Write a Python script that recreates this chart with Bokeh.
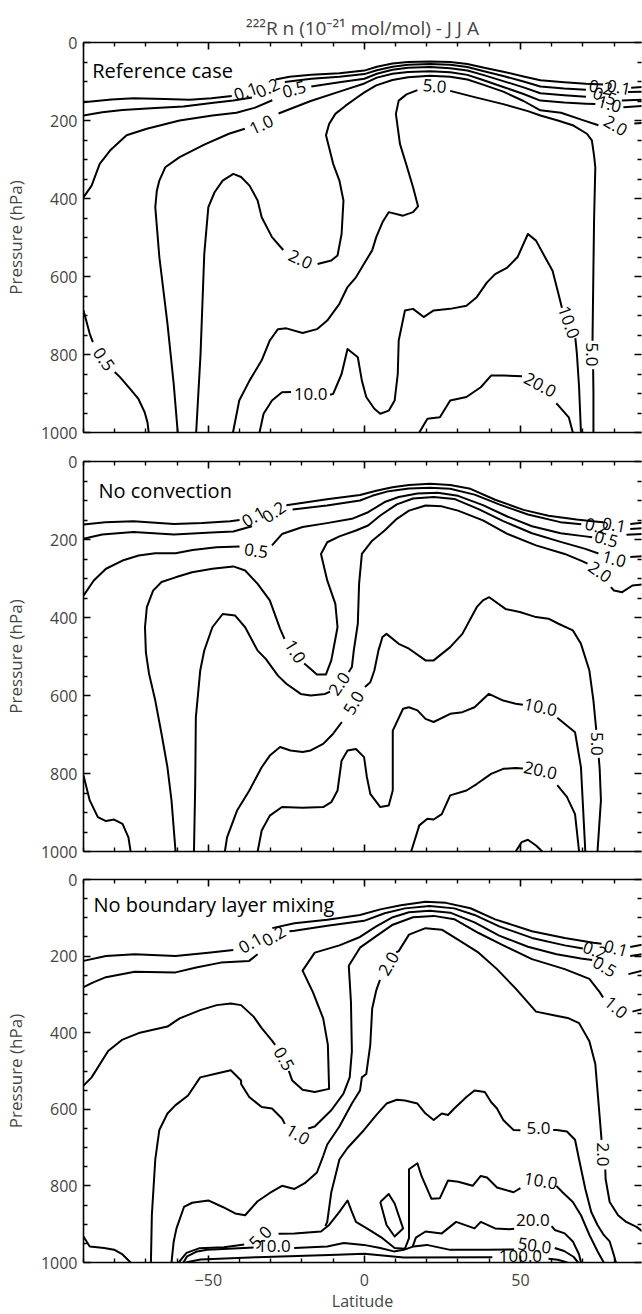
from bokeh.plotting import figure
from bokeh.models import Range1d, FixedTicker, LinearAxis, Label, Title
from bokeh.layouts import column
from bokeh.embed import file_html
from bokeh.resources import INLINE
from bokeh.core.properties import value

FONT = "Open Sans"
TITLE = "²²²R n (10⁻²¹ mol/mol) - J J A"
PANEL_NAMES = ["Reference case", "No convection", "No boundary layer mixing"]
LAT_MAJOR = [-50, 0, 50]
LAT_MINOR = [-90, -80, -70, -60, -40, -30, -20, -10, 10, 20, 30, 40, 60, 70, 80, 90]
P_MAJOR = [0, 200, 400, 600, 800, 1000]
P_MINOR = [50, 100, 150, 250, 300, 350, 450, 500, 550, 650, 700, 750, 850, 900, 950]

# ---------------- Reference case: contour paths (latitude, hPa) ----------------
ref_01 = [
    [(-90, 153), (-81, 146), (-74, 143), (-64, 145), (-56, 147), (-49, 143), (-42.5, 137)],
    [(-28.5, 95), (-24, 88), (-17, 83), (-8, 79), (0, 72), (4, 62), (9, 54), (14, 50), (21, 49), (27.5, 50),
     (33, 55), (38, 64), (44.5, 75), (51, 87), (56.4, 97), (64, 102), (71, 106), (76.5, 108)],
    [(85.5, 116), (89.1, 114)],
]
ref_02 = [
    [(-90, 187), (-84, 179), (-77.5, 173), (-67, 168), (-58, 164), (-49, 155), (-42, 149), (-36, 141)],
    [(-25.5, 101), (-17, 93), (-8, 88), (0, 81), (4, 71), (9, 62), (14, 57), (21, 55), (27.5, 57), (33, 63),
     (38, 73), (44.5, 86), (51, 100), (56.4, 113), (64, 118), (71, 121)],
    [(84.5, 127), (89.1, 126)],
]
ref_05 = [
    [(-90, 397), (-87.4, 367), (-84.8, 311), (-81.5, 277), (-76.2, 238), (-69.7, 221), (-59.2, 200),
     (-48.7, 187), (-41, 180), (-35, 167), (-29.5, 148)],
    [(-17, 113), (-8, 102), (0, 93), (4, 80), (9, 70), (14, 65), (21, 63), (27.5, 66), (33, 72), (38, 83),
     (44.5, 99), (51, 115), (56.4, 130), (64, 135), (71, 139)],
    [(82.5, 149), (89.1, 147)],
]
ref_10 = [
    [(-59.8, 1000), (-61.1, 875), (-63.1, 721), (-65.7, 550), (-67, 422), (-66.5, 380), (-65.7, 354),
     (-63.8, 320), (-59.2, 294), (-51.3, 262), (-43.4, 234), (-38.3, 221)],
    [(-27.5, 182), (-17.2, 150), (-8, 126), (0, 105), (4, 90), (9, 80), (14, 75.5), (21, 73.5), (27.5, 76),
     (33, 83), (38, 96), (44.5, 114), (51, 132), (56.4, 149), (64, 154), (71, 157), (74, 158)],
    [(83, 166), (89.1, 163)],
]
ref_20 = [
    [(-53.9, 1000), (-52.5, 800), (-51.3, 542), (-50, 422), (-48, 384), (-45.4, 354), (-42, 337), (-39.5, 345),
     (-36.8, 367), (-34.2, 405), (-32.9, 448), (-29.6, 499), (-26, 532)],
    [(-15, 568), (-10.6, 559), (-8.6, 546), (-7.3, 491), (-6.7, 405), (-8, 354), (-10, 311), (-12.3, 238),
     (-11.3, 209), (-9.3, 183), (-6, 162), (-2.7, 143), (0, 128), (3.8, 110), (9, 96), (14, 89), (21, 85),
     (27.5, 88), (33, 95), (38, 108), (44.5, 126), (51, 150), (56.4, 174), (63, 180), (70, 199), (75, 212)],
    [(86.5, 208), (89.1, 206)],
]
ref_50 = [
    [(-42.1, 1000), (-40.1, 918), (-36.8, 867), (-32.9, 815), (-30.3, 764), (-27.7, 735), (-25, 733),
     (-19.8, 745), (-15.2, 735), (-11.9, 713), (-8, 670), (-5.4, 627), (-2.7, 602), (1.2, 550), (2.5, 533),
     (3.8, 499), (5.8, 461), (7.8, 435), (12.4, 444), (15.6, 435), (17.2, 420), (15.6, 371), (13.7, 320),
     (11.4, 260), (10.1, 183), (11, 149), (13.5, 133), (17, 122)],
    [(27.5, 124), (35.3, 140), (44.5, 158), (52.4, 176), (56.4, 187), (62, 200), (67, 213), (71.3, 234),
     (72.9, 251), (73.6, 290), (74, 320), (73.6, 456), (73.4, 576), (73.1, 765)],
    [(73.3, 838), (73.4, 900), (73.4, 1000)],
]
ref_100 = [
    [(-33.6, 1000), (-32.3, 952), (-29.6, 918), (-26.4, 897), (-23.5, 896)],
    [(-11, 903), (-10, 901), (-7.3, 850), (-5.4, 786), (-2.1, 807), (-0.8, 867), (0.6, 909), (3.2, 939),
     (5.1, 952), (7.8, 944), (9.7, 918), (10.7, 850), (11, 764), (13, 687), (15.6, 683), (19, 704), (22.2, 687),
     (27.5, 683), (32.7, 675), (36, 653), (39.3, 615), (41.9, 594), (45.8, 577), (49.1, 550), (52.4, 491),
     (55, 508), (57.6, 546), (60.3, 585), (62.2, 645), (63.3, 680)],
    [(67.6, 758), (68.1, 798), (68.8, 884), (69.4, 1000)],
]
ref_200 = [
    [(17.6, 1000), (20.2, 965), (24.2, 961), (27.5, 918), (32.7, 909), (37.3, 884), (40.6, 854), (44.5, 854),
     (50.5, 856)],
    [(61.5, 925), (62.2, 931), (65.5, 961), (66.8, 1000)],
]
ref_05b = [
    [(-90, 687), (-88, 747), (-87, 768)],
    [(-80, 845), (-78.3, 858), (-75, 889), (-72.4, 914), (-70.4, 948), (-69.5, 974), (-69.1, 1000)],
]
ref_labels = [
    ("0.1", -38, 126, 20), ("0.2", -31, 117, 25), ("0.5", -22.5, 120, 15), ("1.0", -33, 211, 25),
    ("5.0", 22.5, 112, -5), ("2.0", -20.5, 556, -25), ("0.5", -83.5, 812, -55), ("10.0", -17.2, 901, 0),
    ("10.0", 65.5, 717, -70), ("5.0", 72.8, 800, -90), ("20.0", 56.3, 878, -28),
    ("0.2", 75.8, 115, -10), ("0.1", 81.5, 115, -10), ("0.5", 77, 138, -20), ("1.0", 78.5, 158, -15),
    ("2.0", 80.5, 213, -30),
]

# ---------------- No convection ----------------
nc_01 = [
    [(-90, 161.5), (-83, 155.5), (-74, 153), (-61, 160), (-52, 158), (-43, 153), (-40, 150)],
    [(-25, 112), (-12, 97), (-1.4, 86), (3.8, 75), (9, 66), (14.3, 60), (21, 57), (27.5, 60), (34, 70),
     (41.9, 98), (51, 124), (59, 139), (68, 149), (73, 153), (76.5, 156)],
    [(85.2, 160), (89.1, 157)],
]
nc_02 = [
    [(-90, 198), (-84, 187), (-74, 181), (-61, 187), (-49, 182), (-42, 179.5), (-36, 166)],
    [(-23, 123), (-12, 113), (-1.4, 100), (2.5, 88), (7.8, 76), (14.3, 69), (21, 67.5), (27.5, 70),
     (35.3, 85), (43.2, 110), (52.4, 136), (62.8, 155.5), (69.5, 161)],
    [(85.2, 173), (89.1, 171)],
]
nc_05 = [
    [(-90, 344), (-86.7, 305), (-82.8, 275), (-77.5, 254), (-72.3, 241), (-67, 235), (-60.5, 235), (-55, 227),
     (-47.4, 220), (-40, 218)],
    [(-29.6, 215), (-26.4, 186), (-19.8, 168), (-12, 158), (-4, 147), (1.2, 130), (6.5, 104), (11, 91),
     (17, 82), (23.5, 80), (30, 88), (38, 112), (45.8, 141), (53.7, 166), (62.9, 184), (70.8, 192), (73, 194)],
    [(84, 188), (89.1, 186)],
]
nc_10 = [
    [(-60.5, 1000), (-61.8, 869), (-63.1, 784), (-65, 698), (-67, 613), (-69, 544), (-70, 490), (-70.3, 425),
     (-69.7, 373.5), (-67.7, 331), (-65, 309), (-60.5, 297), (-55.2, 284), (-48.7, 275), (-42, 269),
     (-38.2, 279.5), (-34.2, 313.7), (-30.3, 356), (-27, 429), (-25.6, 455)],
    [(-19.3, 518), (-18.5, 523), (-15.2, 546), (-12.3, 546), (-10.6, 510), (-10, 484.6), (-8.6, 425),
     (-9.3, 365), (-11.9, 305), (-13.9, 237), (-11.9, 207), (-8, 192), (-2.7, 177), (1.2, 164), (5.1, 138.5),
     (10.4, 110), (15.6, 95), (22.2, 91), (28.8, 96), (36.6, 122), (44.5, 153), (53.7, 184), (62.9, 206),
     (70.8, 224), (75, 236)],
    [(85.2, 245), (89.1, 243)],
]
nc_20 = [
    [(-54.6, 1000), (-54.2, 827), (-54, 656), (-52.6, 536), (-51.3, 484.6), (-48.7, 425), (-45.4, 391),
     (-41.4, 395), (-38.2, 425), (-34.2, 485), (-31.6, 506), (-27.7, 549), (-25, 570), (-20.4, 596),
     (-17.2, 600), (-12.6, 596), (-11, 590)],
    [(-5, 540), (-4, 527), (-3.4, 485), (-2.1, 416), (-1.7, 314), (-0.8, 237), (2.5, 203), (6.5, 177),
     (10.4, 147), (14.3, 126), (19.6, 113), (24.8, 115), (30, 126), (38, 151), (45.8, 185.5), (55, 215),
     (64.2, 237), (69.4, 254), (71.5, 262)],
    [(79, 322), (80, 331), (82.6, 335), (85.9, 318), (89.1, 315)],
]
nc_50 = [
    [(-44.7, 1000), (-44, 964), (-40.8, 895), (-36.9, 844), (-32.9, 784), (-30.3, 754), (-27, 732),
     (-23.7, 741), (-19.8, 745), (-17.2, 741), (-13.2, 724), (-10, 698), (-7.2, 668)],
    [(0.2, 578), (1.9, 566), (3.2, 536), (4.5, 485), (5.8, 450), (7.1, 442), (11, 467.5), (14.3, 480),
     (19.6, 510), (22.2, 510), (27.5, 476), (31.4, 442), (36, 373.5), (38, 356), (40, 348), (45.2, 378),
     (49.8, 386), (55, 399), (59, 403), (62.2, 416), (66.8, 433), (69.4, 467.5), (72.1, 536), (73.4, 613),
     (74, 664), (74.3, 688)],
    [(75.1, 760), (75.4, 788), (75.8, 869), (74.7, 1000)],
]
nc_100 = [
    [(-34.2, 1000), (-32.9, 946), (-30.3, 908), (-26.4, 886), (-19.8, 888), (-13.2, 886), (-10.6, 873.5),
     (-8.6, 843.6), (-7.3, 767), (-5.4, 741), (-2.7, 737), (-0.1, 758), (0.8, 809), (1.9, 852), (5.1, 886),
     (7.8, 882), (9.1, 843.6), (9.1, 690), (12.4, 634), (14.3, 630), (17, 638), (19.6, 660), (22.2, 668),
     (27.5, 647), (31.4, 642.7), (35.3, 630), (39.9, 595.7), (44.5, 613), (48.5, 621), (50.8, 624)],
    [(61.8, 657), (62.9, 664), (67.5, 694), (69.4, 784), (70.8, 1000)],
]
nc_200 = [
    [(15, 1000), (17.6, 933), (20.2, 916), (22.2, 918), (24.8, 904), (27.5, 856), (32.7, 843.6), (36, 827),
     (40.6, 801), (44.5, 788), (48.5, 786), (50.8, 787)],
    [(61.8, 830), (64.9, 860), (67.5, 904), (68.8, 1000)],
]
nc_500 = [[(48.5, 1000), (50.4, 976), (52.4, 970), (55, 984.6), (57, 1000)]]
nc_05b = [[(-90, 805), (-88, 869), (-85.4, 912), (-82.8, 922), (-80.2, 918), (-77.5, 929), (-75.6, 964),
           (-74.9, 1000)]]
nc_labels = [
    ("0.1", -35.5, 142, 30), ("0.2", -29, 130, 35), ("0.5", -34.7, 229, -8), ("1.0", -22.2, 487, -58),
    ("2.0", -8, 570, 55), ("5.0", -3.4, 619, 60), ("10.0", 56.4, 630, -12), ("20.0", 56.4, 792, -12),
    ("5.0", 74.7, 724, -90), ("0.2", 74.5, 166, -15), ("0.1", 80, 163, -10), ("0.5", 77.5, 199, -15),
    ("1.0", 80, 250, -15), ("2.0", 75.5, 283, -35),
]

# ---------------- No boundary layer mixing ----------------
bl_01 = [
    [(-90, 212.5), (-82.8, 200), (-73.6, 195), (-60.5, 200), (-50, 191), (-42, 184)],
    [(-29.5, 127), (-22.4, 114), (-11.9, 105), (-1.4, 92.5), (5.1, 78), (11.7, 67), (19.6, 58), (26.1, 61),
     (34, 75), (41.9, 104), (53.7, 135), (64.2, 152.5), (73.4, 165), (76, 168)],
    [(85.2, 176), (89.1, 170)],
]
bl_02 = [
    [(-90, 281), (-86.7, 268), (-82.8, 255), (-73.6, 241), (-60.5, 242.5), (-53.9, 229.6), (-46, 217),
     (-36.9, 212.5), (-34.2, 195)],
    [(-24, 135), (-22.4, 133.7), (-11.9, 121), (-0.1, 108), (6.5, 88), (13, 75.4), (20.9, 69.4), (28.8, 75.4),
     (35.3, 92.5), (43.2, 122.5), (53.7, 152.5), (64.2, 172), (70, 180)],
    [(85.2, 200), (89.1, 195)],
]
bl_05 = [
    [(-90, 538), (-87.4, 516.7), (-82.1, 448), (-77.5, 418), (-72.3, 401), (-67.7, 392.5), (-63.1, 384),
     (-59.2, 362.5), (-52.6, 341), (-47.3, 328), (-42.8, 324), (-39.5, 328), (-35.5, 358), (-32.9, 388),
     (-29.6, 420.7), (-28.6, 432)],
    [(-24.2, 500), (-23.1, 525), (-19.8, 549), (-15.9, 555), (-11.3, 546.7), (-11.7, 431), (-13.2, 362.5),
     (-16.5, 294), (-19.8, 238), (-15.9, 191), (-8, 172), (-1.4, 150), (3.8, 122.5), (9.1, 98.5),
     (14.3, 85.7), (20.9, 81.4), (27.5, 86.5), (35.3, 112), (43.2, 146.5), (52.4, 175.7), (61.6, 195),
     (69.4, 206.5), (73, 210)],
    [(84.6, 247), (89.1, 238)],
]
bl_10 = [
    [(-68.4, 1000), (-68.1, 876.6), (-67, 731), (-65.7, 654), (-63.1, 611), (-60.5, 589), (-56.5, 564),
     (-52.6, 516.7), (-48, 508), (-42.8, 498), (-39.5, 525), (-39.5, 534), (-36.9, 568), (-32.9, 594),
     (-29.6, 598), (-26.4, 624), (-25.5, 638)],
    [(-18, 650), (-15.9, 645), (-10.6, 602.4), (-6.7, 559), (-4.7, 516.7), (-4, 448), (-4.3, 319.6), (-5, 225),
     (-1.4, 178), (3.8, 148), (9.1, 118), (15.6, 98.5), (22.2, 95), (28.8, 103.7), (36.6, 139.7), (44.5, 172),
     (53.7, 208), (64.2, 234), (72.1, 259.6), (75.4, 294), (76.5, 308)],
    [(85.9, 345), (89.1, 338.5)],
]
bl_20 = [
    [(-61.8, 1000), (-61.1, 945), (-60.2, 911), (-57.8, 855), (-55.2, 844), (-50, 838), (-45.4, 855),
     (-41.4, 872), (-38.2, 876.6), (-34.2, 840), (-30.3, 818.5), (-26.4, 799.7), (-22.4, 808), (-19.1, 793),
     (-15.2, 765), (-13.2, 722), (-11.9, 692), (-8, 645), (-4, 585), (-1.4, 551), (-0.8, 516.7), (0.6, 508),
     (1.9, 431), (2.5, 336.8), (3.8, 289.6), (5, 262)],
    [(10.2, 190), (11, 187), (14.3, 144), (19.6, 127), (24.8, 131), (30, 157), (36.6, 191), (42.5, 234),
     (48.5, 285), (55, 345), (60.3, 354), (65.5, 362.5), (68.8, 375), (72.1, 422.5), (74, 482), (74.7, 551),
     (75.4, 620), (76, 680)],
    [(77.2, 757), (77.3, 782), (78.6, 842), (81.3, 876.6), (83.9, 894), (87.2, 907), (89.1, 919)],
]
bl_50 = [
    [(-12.5, 905), (-11.9, 894), (-10.6, 816.6), (-9.3, 774), (-8, 731), (-5.4, 701), (-0.1, 654), (3.8, 615),
     (7.1, 585), (10.4, 575), (13, 577), (17, 585), (19.6, 611), (22.2, 628), (24.8, 611), (26.8, 615),
     (28.8, 598), (32.7, 568), (35.3, 551), (38.6, 555), (40.6, 581), (42.5, 598), (44.5, 628), (47.8, 654),
     (50, 655)],
    [(60.5, 654), (61.6, 654), (64.9, 658), (67.5, 679.5), (68.8, 731), (70.8, 808), (72.7, 868), (74.7, 902),
     (76.7, 928), (78.6, 945), (79.9, 979), (80.6, 1000)],
]
bl_spike = [
    [(-59.5, 1000), (-57, 975), (-53, 963), (-45, 960), (-38.5, 953)],
    [(-27.5, 925), (-22.4, 924), (-13.9, 919), (-11.3, 902), (-8, 868), (-5.4, 838), (-4, 868), (-2.7, 894),
     (1.2, 913), (5.8, 936.6), (9.7, 962), (13, 964), (14.3, 936.6), (14.3, 756.6), (17, 741), (18.3, 774),
     (21.5, 833.8), (24.2, 832), (26.8, 786), (30.1, 789), (34.7, 799.7), (37.3, 774), (39.3, 778),
     (42.5, 804), (47.8, 816.6), (50, 806)],
    [(61.5, 800), (63.5, 816.6), (66.8, 842), (69.4, 876.6), (72.1, 928), (74.7, 970.8), (76.7, 1000)],
]
bl_low1 = [
    [(-58, 1000), (-56.8, 984), (-53.6, 971), (-50.4, 967), (-38.6, 962), (-35.5, 961)],
    [(-22.5, 962), (-11.9, 958), (-6.6, 949), (-0.2, 954), (5.1, 962), (9.4, 971), (12.6, 967), (15.8, 958),
     (20, 954), (27.5, 967), (39.3, 967), (48, 966)],
    [(61, 962), (64, 970), (67, 985), (68.5, 1000)],
]
bl_low2 = [
    [(-57.3, 1000), (-52.5, 992), (-34.4, 986), (-8.7, 980), (0, 977), (12.6, 987), (39.3, 986), (41, 986)],
    [(59, 990), (62, 993), (65, 1000)],
]
bl_200 = [
    [(15.5, 958), (16.5, 935), (19.6, 919), (24.8, 924), (29.4, 894), (35.3, 911), (37.3, 894), (41.9, 911),
     (46.5, 913), (48, 912)],
    [(60, 905), (61, 915), (64.2, 924), (66.8, 945), (68.8, 979), (69.4, 1000)],
]
bl_loop = [[(5.1, 842), (7.8, 821), (9.7, 846), (12.4, 911), (9.7, 932), (7.1, 902), (5.1, 842)]]
bl_05b = [[(-90, 932), (-88, 958), (-83.4, 962), (-80.2, 966.6), (-77.5, 979), (-74.9, 1000)]]
bl_labels = [
    ("0.1", -36.5, 166, 30), ("0.2", -29, 148, 30), ("0.5", -25.8, 468, -60), ("2.0", 7.8, 220, 60),
    ("1.0", -21.3, 666, -30), ("5.0", -33.3, 934, 45), ("10.0", -29, 958, 0), ("5.0", 55.8, 650, 0),
    ("10.0", 56.5, 787, -10), ("20.0", 54, 888, 0), ("50.0", 54.5, 956, -8), ("100.0", 50, 983, 0),
    ("2.0", 76.6, 718, -90), ("0.1", 80.6, 180, -15), ("0.2", 73.8, 185, -20), ("0.5", 77, 228, -30),
    ("1.0", 80.6, 334, -40),
]

PANELS = [
    ([ref_01, ref_02, ref_05, ref_10, ref_20, ref_50, ref_100, ref_200, ref_05b], ref_labels),
    ([nc_01, nc_02, nc_05, nc_10, nc_20, nc_50, nc_100, nc_200, nc_500, nc_05b], nc_labels),
    ([bl_01, bl_02, bl_05, bl_10, bl_20, bl_50, bl_spike, bl_low1, bl_low2, bl_200, bl_loop, bl_05b], bl_labels),
]
NAME_POS = [(-87.2, 73), (-85.2, 74), (-86.8, 66)]
HEIGHTS = [446, 419, 449]
TOPS = [42, 15, 14]
BOTTOMS = [14, 14, 46]


def style_axis(ax, ticks, minor, labels):
    ax.ticker = FixedTicker(ticks=ticks, minor_ticks=minor)
    ax.axis_line_width = 1.6
    ax.major_tick_in = 7
    ax.major_tick_out = 0
    ax.minor_tick_in = 4
    ax.minor_tick_out = 0
    ax.major_tick_line_width = 1.6
    ax.minor_tick_line_width = 1.4
    ax.major_label_text_font = FONT
    if labels:
        ax.major_label_text_font_size = "16px"
        ax.major_label_standoff = 6
    else:
        ax.major_label_text_font_size = "0px"
        ax.major_label_text_color = None
        ax.major_label_standoff = 0


plots = []
for i, (contours, labels) in enumerate(PANELS):
    p = figure(width=642, height=HEIGHTS[i], x_range=Range1d(-90, 88.8), y_range=Range1d(1000, 0),
               output_backend="svg", toolbar_location=None, x_axis_location=None, y_axis_location=None,
               min_border_left=83, min_border_right=1, min_border_top=TOPS[i], min_border_bottom=BOTTOMS[i])
    p.outline_line_color = None
    p.background_fill_color = "white"
    p.border_fill_color = "white"
    for g in p.grid:
        g.visible = False

    left = LinearAxis()
    style_axis(left, P_MAJOR, P_MINOR, True)
    left.axis_label = "Pressure (hPa)"
    left.axis_label_text_font = FONT
    left.axis_label_text_font_size = "17px"
    left.axis_label_text_font_style = "normal"
    left.axis_label_standoff = 11
    p.add_layout(left, "left")

    right = LinearAxis()
    style_axis(right, P_MAJOR, P_MINOR, False)
    right.axis_line_color = None
    p.add_layout(right, "right")

    bottom = LinearAxis()
    style_axis(bottom, LAT_MAJOR, LAT_MINOR, i == 2)
    if i == 2:
        bottom.major_label_standoff = 11
        bottom.axis_label = "Latitude"
        bottom.axis_label_text_font = FONT
        bottom.axis_label_text_font_size = "16px"
        bottom.axis_label_text_font_style = "normal"
        bottom.axis_label_standoff = 1
    p.add_layout(bottom, "below")

    top = LinearAxis()
    style_axis(top, LAT_MAJOR, LAT_MINOR, False)
    p.add_layout(top, "above")

    if i == 0:
        p.title = Title(text=TITLE, align="center", text_font=FONT, text_font_size="19px",
                        text_font_style="normal", standoff=4)

    xs, ys = [], []
    for contour in contours:
        for seg in contour:
            xs.append([pt[0] for pt in seg])
            ys.append([pt[1] for pt in seg])
    p.multi_line(xs, ys, line_color="black", line_width=2, line_join="round")

    p.text(x=[l[1] for l in labels], y=[l[2] for l in labels], text=[l[0] for l in labels],
           angle=[l[3] for l in labels], angle_units="deg", text_font=value(FONT), text_font_size="17px",
           text_align="center", text_baseline="middle", text_color="black")

    p.add_layout(Label(x=NAME_POS[i][0], y=NAME_POS[i][1], text=PANEL_NAMES[i], text_font=FONT,
                       text_font_size="20px", text_baseline="alphabetic", text_color="black"))
    plots.append(p)

layout = column(*plots, spacing=0)
open("out.html", "w").write(file_html(layout, INLINE))
